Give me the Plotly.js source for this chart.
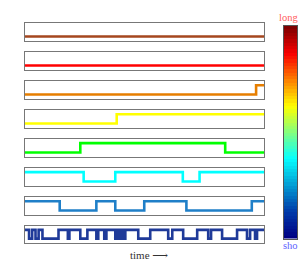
<!DOCTYPE html>
<html><head><meta charset="utf-8">
<script src="https://cdn.plot.ly/plotly-3.0.1.min.js"></script>
<style>html,body{margin:0;padding:0;background:#fff}#c{width:299px;height:274px}</style>
</head><body><div id="c"></div>
<script>
// Step series: switch times (0-100 time units) and values after each switch
const seriesNames = ['long1','long2','long3','mid1','mid2','mid3','short1','short2'];
const seriesColors = ['#a5461e','#ff0000','#e67e00','#ffff00','#00ff00','#00ffff','#1f7fc8','#1f3a99'];
const startValues = [0,0,0,0,0,1,1,1];
const switchTimes = [
  [],
  [],
  [96.7],
  [38.5],
  [23.3, 83.8],
  [24.7, 37.9, 66.1, 73.1],
  [14.7, 30.0, 37.9, 50.0, 67.6, 94.9],
  [1.9, 3.2, 4.6, 5.9, 7.5, 14.2, 18.1, 18.75, 23.3, 26.25, 30.0, 30.8, 33.3, 34.2, 37.9, 38.75, 39.6, 40.4, 41.25, 42.1, 47.5, 52.5, 60.0, 61.7, 66.25, 72.1, 76.7, 77.9, 82.5, 88.75, 92.9, 94.2, 96.25, 97.1]
];
const colorbarLabels = ['long','sho'];

const W = 299, H = 274;
const mL = 24, mR = 2, mT = 22, mB = 31;
const plotW = W - mL - mR, plotH = H - mT - mB;
const px2x = p => (p - mL) / plotW;
const py2y = p => 1 - (p - mT) / plotH;

const traces = [];
const layout = {
  width: W, height: H, showlegend: false,
  margin: {l: mL, r: mR, t: mT, b: mB},
  paper_bgcolor: '#fff', plot_bgcolor: '#fff',
  annotations: [], shapes: []
};

for (let i = 0; i < 8; i++) {
  const xs = [0], ys = [startValues[i]];
  let v = startValues[i];
  switchTimes[i].forEach(t => { v = 1 - v; xs.push(t); ys.push(v); });
  xs.push(100); ys.push(v);
  const n = i + 1;
  const xa = n === 1 ? 'x' : 'x' + n, ya = n === 1 ? 'y' : 'y' + n;
  traces.push({x: xs, y: ys, xaxis: xa, yaxis: ya, type: 'scatter', mode: 'lines',
    line: {shape: 'hv', color: seriesColors[i], width: 2.6}, hoverinfo: 'skip', name: seriesNames[i]});
  const top = 22.5 + 29 * i, bot = top + 18.7;
  const axX = {domain: [px2x(24.5), px2x(264)], range: [0, 100], showticklabels: false, ticks: '',
    showgrid: false, zeroline: false, showline: true, mirror: true, linecolor: '#777', linewidth: 1};
  const axY = {domain: [py2y(bot), py2y(top)], range: [-0.5, 1.5], showticklabels: false, ticks: '',
    showgrid: false, zeroline: false, showline: true, mirror: true, linecolor: '#777', linewidth: 1};
  if (n > 1) axX.anchor = 'y' + n;
  if (n > 1) axY.anchor = 'x' + n;
  layout[n === 1 ? 'xaxis' : 'xaxis' + n] = axX;
  layout[n === 1 ? 'yaxis' : 'yaxis' + n] = axY;
}

// colorbar as a column heatmap
const nLev = 64;
const zcol = [];
for (let k = 0; k < nLev; k++) zcol.push([k]);
traces.push({type: 'heatmap', z: zcol, xaxis: 'x9', yaxis: 'y9', colorscale: 'Jet', showscale: false, hoverinfo: 'skip'});
layout.xaxis9 = {domain: [px2x(283.5), px2x(297.5)], anchor: 'y9', showticklabels: false, ticks: '', showgrid: false,
  zeroline: false, showline: true, mirror: true, linecolor: '#555', linewidth: 1};
layout.yaxis9 = {domain: [py2y(238.5), py2y(26)], anchor: 'x9', showticklabels: false, ticks: '', showgrid: false,
  zeroline: false, showline: true, mirror: true, linecolor: '#555', linewidth: 1};

const serif = 'Liberation Serif, DejaVu Serif, serif';
layout.annotations.push({text: colorbarLabels[0], xref: 'paper', yref: 'paper', x: px2x(298.5), y: py2y(17),
  xanchor: 'right', yanchor: 'middle', showarrow: false, borderpad: 0, font: {family: serif, size: 10.5, color: '#ff6060'}});
layout.annotations.push({text: colorbarLabels[1], xref: 'paper', yref: 'paper', x: px2x(298.5), y: py2y(245.5),
  xanchor: 'right', yanchor: 'middle', showarrow: false, borderpad: 0, font: {family: serif, size: 10.5, color: '#6060ff'}});
layout.annotations.push({text: 'time \u27F6', xref: 'paper', yref: 'paper', x: px2x(149), y: py2y(255),
  xanchor: 'center', yanchor: 'middle', showarrow: false, font: {family: serif, size: 11, color: '#333'}});

Plotly.newPlot('c', traces, layout, {staticPlot: true, displayModeBar: false});
</script></body></html>
